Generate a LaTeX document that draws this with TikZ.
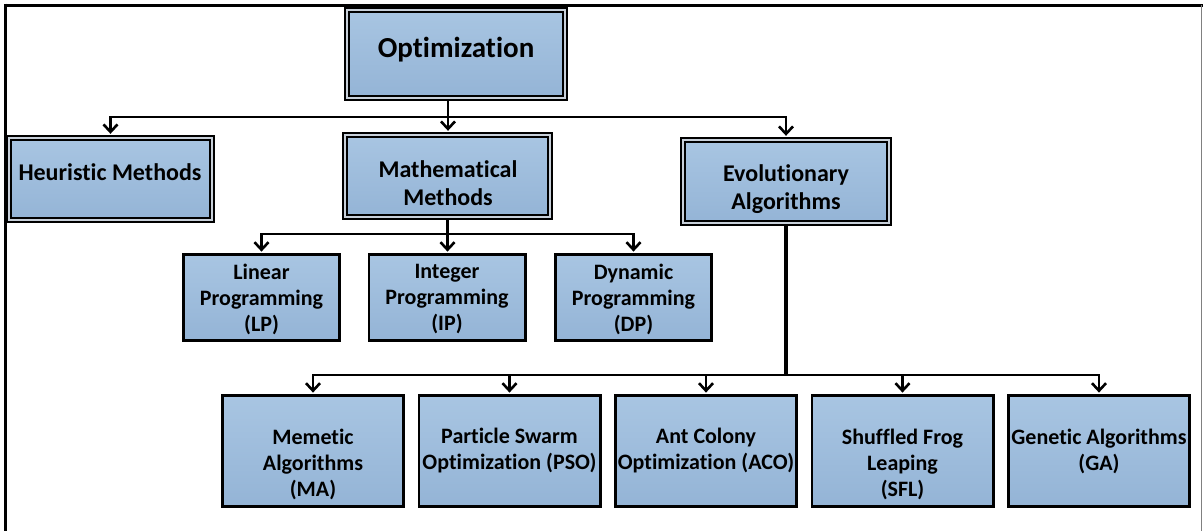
\documentclass[tikz,border=0pt]{standalone}
\usepackage{fontspec}
\setmainfont{Carlito}[Ligatures={NoCommon}]
\usetikzlibrary{arrows.meta}
\definecolor{boxtop}{RGB}{168,197,226}
\definecolor{boxbot}{RGB}{148,180,214}
\definecolor{gapgray}{RGB}{200,208,218}
\tikzset{
  plainbox/.style={draw=black, line width=2.8pt, top color=boxtop, bottom color=boxbot,
                   inner sep=0pt, rectangle},
  framedbox/.style={draw=black, double=gapgray, double distance=1.2pt, line width=2.4pt,
                    top color=boxtop, bottom color=boxbot, inner sep=0pt, rectangle},
  bigtxt/.style={font=\fontsize{29}{34}\selectfont\bfseries, inner sep=0pt},
  midtxt/.style={font=\fontsize{24}{27.5}\selectfont\bfseries, align=center, inner sep=0pt},
  smalltxt/.style={font=\fontsize{22}{26}\selectfont\bfseries, align=center, inner sep=0pt},
  link/.style={draw=black, line width=2.6pt},
  arr/.style={link, -{Straight Barb[length=7.5pt,width=14pt]}},
}
\begin{document}
\begin{tikzpicture}[x=1pt, y=-1pt]
\useasboundingbox (0,0) rectangle (1203,531);
% page frame
\draw[line width=3pt] (4,5) -- (1203,5);
\draw[line width=3pt] (5,3.5) -- (5,531);
\draw[line width=1pt, gray] (1201.5,5) -- (1201.5,531);

% top level
\node[framedbox, minimum width=218pt, minimum height=88pt] (b-opt) at (456,54) {};
\node[bigtxt] (t-opt) at (456,50) {Optimization};

% second level
\node[framedbox, minimum width=203pt, minimum height=82pt] (b-heur) at (110.5,179) {};
\node[midtxt] (t-heur) at (110,172) {Heuristic Methods};
\node[framedbox, minimum width=205pt, minimum height=82pt] (b-math) at (447.5,176) {};
\node[midtxt] (t-math) at (448,183) {Mathematical\\Methods};
\node[framedbox, minimum width=206pt, minimum height=83pt] (b-evol) at (786,181.5) {};
\node[midtxt] (t-evol) at (786,189) {Evolutionary\\Algorithms};

% mathematical methods
\node[plainbox, minimum width=156.2pt, minimum height=86.2pt] (b-lp) at (261.5,297.5) {};
\node[smalltxt] (t-lp) at (261.5,299) {Linear\\Programming\\(LP)};
\node[plainbox, minimum width=156.2pt, minimum height=86.2pt] (b-ip) at (447,297.5) {};
\node[smalltxt] (t-ip) at (447,299) {Integer\\Programming\\(IP)};
\node[plainbox, minimum width=156.2pt, minimum height=86.2pt] (b-dp) at (633.5,297.5) {};
\node[smalltxt] (t-dp) at (633.5,299) {Dynamic\\Programming\\(DP)};

% evolutionary algorithms
\node[plainbox, minimum width=181.2pt, minimum height=111.2pt] (b-ma) at (313,451) {};
\node[smalltxt] (t-ma) at (313,464) {Memetic\\Algorithms\\(MA)};
\node[plainbox, minimum width=181.2pt, minimum height=111.2pt] (b-pso) at (509.5,451) {};
\node[smalltxt] (t-pso) at (509.5,451) {Particle Swarm\\Optimization (PSO)};
\node[plainbox, minimum width=181.2pt, minimum height=111.2pt] (b-aco) at (706,451) {};
\node[smalltxt] (t-aco) at (706,451) {Ant Colony\\Optimization (ACO)};
\node[plainbox, minimum width=181.2pt, minimum height=111.2pt] (b-sfl) at (902.5,451) {};
\node[smalltxt] (t-sfl) at (902.5,464) {Shuffled Frog\\Leaping\\(SFL)};
\node[plainbox, minimum width=181.2pt, minimum height=111.2pt] (b-ga) at (1099,451) {};
\node[smalltxt] (t-ga) at (1099,451) {Genetic Algorithms\\(GA)};

% junctions
\coordinate (j1) at (448,117);
\coordinate (j2) at (447.5,234);
\coordinate (j3) at (786,375);

% connectors
\draw[link] (b-opt.south -| j1) -- (j1);
\draw[arr, shorten >=3pt] (j1) -| (b-heur.north);
\draw[arr, shorten >=3pt] (j1) -- (b-math.north -| j1);
\draw[arr, shorten >=3pt] (j1) -| (b-evol.north);

\draw[link] (b-math.south) -- (j2);
\draw[arr, shorten >=1.4pt] (j2) -| (b-lp.north);
\draw[arr, shorten >=1.4pt] (j2) -- (b-ip.north -| j2);
\draw[arr, shorten >=1.4pt] (j2) -| (b-dp.north);

\draw[link, line width=4.5pt] (b-evol.south) -- (j3);
\draw[arr, shorten >=1.4pt] (j3) -| (b-ma.north);
\draw[arr, shorten >=1.4pt] (j3) -| (b-pso.north);
\draw[arr, shorten >=1.4pt] (j3) -| (b-aco.north);
\draw[arr, shorten >=1.4pt] (j3) -| (b-sfl.north);
\draw[arr, shorten >=1.4pt] (j3) -| (b-ga.north);
\end{tikzpicture}
\end{document}
